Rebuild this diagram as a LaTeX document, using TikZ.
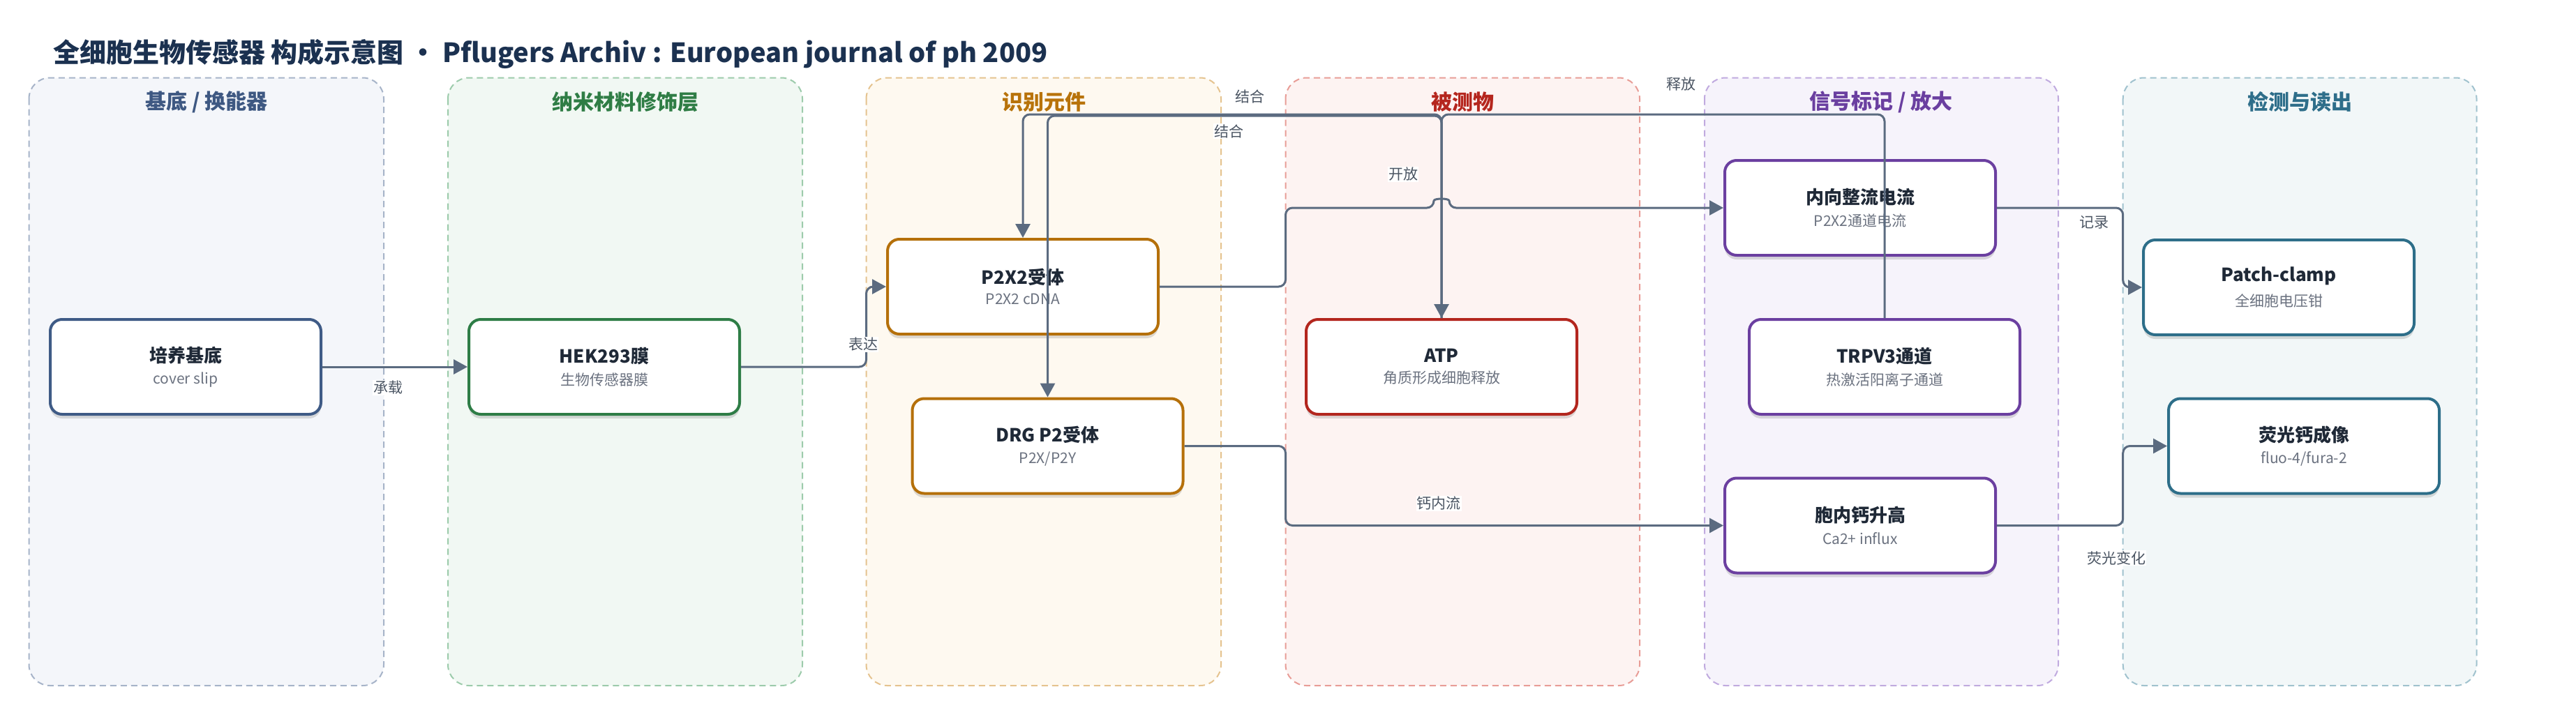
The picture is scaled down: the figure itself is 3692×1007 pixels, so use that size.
\documentclass[tikz,border=0pt]{standalone}
\usepackage{fontspec}
\setmainfont{Noto Sans CJK SC}
\usetikzlibrary{shadows,arrows.meta}
\definecolor{titlec}{HTML}{1B3150}
\definecolor{edgec}{HTML}{5B6B80}
\definecolor{labc}{HTML}{4B5563}
\definecolor{nodetxt}{HTML}{1F2937}
\definecolor{subtxt}{HTML}{6B7280}
\definecolor{pfA}{HTML}{F4F6FA}\definecolor{pbA}{HTML}{A7B4C9}\definecolor{ptA}{HTML}{3E5882}\definecolor{nbA}{HTML}{3F5B86}
\definecolor{pfB}{HTML}{F1F8F3}\definecolor{pbB}{HTML}{9CCBAB}\definecolor{ptB}{HTML}{2F7D45}\definecolor{nbB}{HTML}{2E7D46}
\definecolor{pfC}{HTML}{FEF9F0}\definecolor{pbC}{HTML}{E5C38F}\definecolor{ptC}{HTML}{B8730A}\definecolor{nbC}{HTML}{B5700A}
\definecolor{pfD}{HTML}{FDF3F2}\definecolor{pbD}{HTML}{E89D97}\definecolor{ptD}{HTML}{B5261E}\definecolor{nbD}{HTML}{B3261E}
\definecolor{pfE}{HTML}{F6F3FB}\definecolor{pbE}{HTML}{C0AADF}\definecolor{ptE}{HTML}{6A3FA0}\definecolor{nbE}{HTML}{6B3FA0}
\definecolor{pfF}{HTML}{F2F7F8}\definecolor{pbF}{HTML}{A0C2CE}\definecolor{ptF}{HTML}{2E6E8A}\definecolor{nbF}{HTML}{2D6E89}
\newcommand{\ntext}[2]{{\fontsize{26pt}{30pt}\selectfont\bfseries\color{nodetxt}#1}\\[11pt]{\fontsize{21pt}{25pt}\selectfont\color{subtxt}#2}}
\begin{document}
\begin{tikzpicture}[x=1pt,y=-1pt,
  panel/.style={rounded corners=30pt, line width=2pt, dash pattern=on 9pt off 6pt},
  ptitle/.style={font={\fontsize{30pt}{34pt}\selectfont\bfseries}},
  box/.style={rectangle, rounded corners=17pt, minimum width=388pt, minimum height=136pt,
    line width=4pt, fill=white, align=center,
    drop shadow={shadow xshift=0pt, shadow yshift=-6pt, opacity=0.13, fill=black}},
  edge/.style={draw=edgec, line width=3pt, rounded corners=10pt,
    -{Triangle[length=20pt,width=21pt]}},
  elab/.style={font={\fontsize{21pt}{24pt}\selectfont}, text=labc, fill=white, inner sep=1pt}]
\useasboundingbox (0,0) rectangle (3692,1007);
\fill[white] (0,0) rectangle (3692,1007);
% title
\node[anchor=west, font={\fontsize{38pt}{44pt}\selectfont\bfseries}, text=titlec, inner sep=0pt] (title) at (76,77) {全细胞生物传感器 构成示意图 • Pflugers Archiv : European journal of ph 2009};
% panels
\draw[panel, fill=pfA, draw=pbA] (41.5,111.5) rectangle (550,983);
\draw[panel, fill=pfB, draw=pbB] (642,111.5) rectangle (1150,983);
\draw[panel, fill=pfC, draw=pbC] (1241.5,111.5) rectangle (1750,983);
\draw[panel, fill=pfD, draw=pbD] (1842.5,111.5) rectangle (2350,983);
\draw[panel, fill=pfE, draw=pbE] (2443,111.5) rectangle (2950,983);
\draw[panel, fill=pfF, draw=pbF] (3042.7,111.5) rectangle (3549.5,983);
\node[ptitle, text=ptA] (pt1) at (296,146) {基底 / 换能器};
\node[ptitle, text=ptB] (pt2) at (896,146) {纳米材料修饰层};
\node[ptitle, text=ptC] (pt3) at (1496,146) {识别元件};
\node[ptitle, text=ptD] (pt4) at (2096,146) {被测物};
\node[ptitle, text=ptE] (pt5) at (2696,146) {信号标记 / 放大};
\node[ptitle, text=ptF] (pt6) at (3296,146) {检测与读出};
% nodes
\node[box, draw=nbA] (sub) at (266,526) {\ntext{培养基底}{cover slip}};
\node[box, draw=nbB] (hek) at (866,526) {\ntext{HEK293膜}{生物传感器膜}};
\node[box, draw=nbC] (p2x2) at (1466,411) {\ntext{P2X2受体}{P2X2 cDNA}};
\node[box, draw=nbC] (drg) at (1501.5,639.5) {\ntext{DRG P2受体}{P2X/P2Y}};
\node[box, draw=nbD] (atp) at (2066,526) {\ntext{ATP}{角质形成细胞释放}};
\node[box, draw=nbE] (inner) at (2666,298) {\ntext{内向整流电流}{P2X2通道电流}};
\node[box, draw=nbE] (trpv) at (2701,526) {\ntext{TRPV3通道}{热激活阳离子通道}};
\node[box, draw=nbE] (ca) at (2666,753.5) {\ntext{胞内钙升高}{Ca2+ influx}};
\node[box, draw=nbF] (patch) at (3266,412) {\ntext{Patch-clamp}{全细胞电压钳}};
\node[box, draw=nbF] (fluo) at (3302,639.5) {\ntext{荧光钙成像}{fluo-4/fura-2}};
% edges
\draw[edge] (sub.east) -- (hek.west);
\draw[edge] (hek.east) -- (1241.5,526) -- (1241.5,411) -- (p2x2.west);
\draw[edge] (p2x2.east) -- (1842.5,411) -- (1842.5,298) -- (2055,298) .. controls (2055,284) and (2077,284) .. (2077,298) -- (inner.west);
\draw[edge] (drg.east) -- (1842.5,639.5) -- (1842.5,753.5) -- (ca.west);
\draw[edge] (trpv.north) -- (2701,164) -- (2066,164) -- (atp.north);
\draw[edge] (atp.north) -- (2066,164) -- (1466,164) -- (p2x2.north);
\draw[edge] (atp.north) -- (2066,166) -- (1501.5,166) -- (drg.north);
\draw[edge] (inner.east) -- (3042.7,298) -- (3042.7,412) -- (patch.west);
\draw[edge] (ca.east) -- (3042.7,753.5) -- (3042.7,639.5) -- (fluo.west);
% labels
\node[elab] (l1) at (556,556) {承载};
\node[elab] (l2) at (1237,494) {表达};
\node[elab] (l3) at (2011,250) {开放};
\node[elab] (l4) at (2062,722) {钙内流};
\node[elab] (l5) at (1791,138) {结合};
\node[elab] (l6) at (1761,188) {结合};
\node[elab] (l7) at (2409,121) {释放};
\node[elab, fill=none] (l8) at (3001.5,319) {记录};
\node[elab] (l9) at (3033,800) {荧光变化};
\end{tikzpicture}
\end{document}
